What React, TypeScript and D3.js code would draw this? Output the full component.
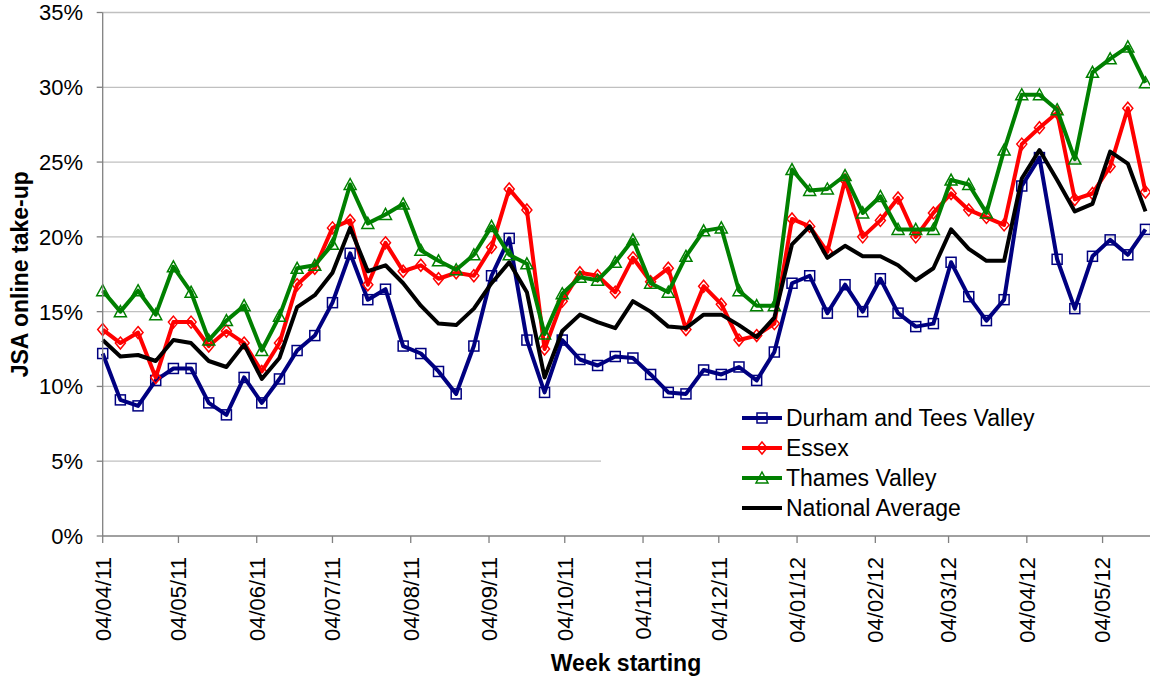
import * as d3 from 'd3';

// Weekly JSA online take-up (%), week starting 04/04/11
const parseDay = d3.timeParse('%d/%m/%y');
const firstWeek = parseDay('04/04/11') as Date;
const weekCount = 60;
const weeks: Date[] = d3.range(weekCount).map(i => d3.timeDay.offset(firstWeek, i * 7));

const monthTicks = [
  '04/04/11', '04/05/11', '04/06/11', '04/07/11', '04/08/11', '04/09/11', '04/10/11',
  '04/11/11', '04/12/11', '04/01/12', '04/02/12', '04/03/12', '04/04/12', '04/05/12'
];
const yTicks = [0, 5, 10, 15, 20, 25, 30, 35];

const durham = [
  12.2, 9.1, 8.7, 10.4, 11.2, 11.2, 8.9, 8.1, 10.6, 8.9,
  10.5, 12.4, 13.4, 15.6, 18.9, 15.8, 16.5, 12.7, 12.2, 11.0,
  9.5, 12.7, 17.4, 19.9, 13.1, 9.6, 13.1, 11.8, 11.4, 12.0,
  11.9, 10.8, 9.6, 9.5, 11.1, 10.8, 11.3, 10.4, 12.3, 16.9,
  17.4, 14.9, 16.8, 15.0, 17.2, 14.9, 14.0, 14.2, 18.3, 16.0,
  14.4, 15.8, 23.4, 25.3, 18.5, 15.2, 18.7, 19.8, 18.8, 20.5
];
const essex = [
  13.8, 12.9, 13.6, 10.6, 14.3, 14.3, 12.7, 13.7, 12.9, 11.0,
  12.9, 16.8, 17.9, 20.6, 21.1, 16.8, 19.6, 17.7, 18.1, 17.2,
  17.6, 17.4, 19.3, 23.2, 21.8, 12.5, 15.7, 17.6, 17.4, 16.3,
  18.6, 17.0, 17.9, 13.8, 16.7, 15.5, 13.1, 13.4, 14.2, 21.2,
  20.7, 19.0, 23.8, 20.0, 21.1, 22.6, 20.0, 21.6, 22.9, 21.8,
  21.3, 20.8, 26.2, 27.3, 28.3, 22.5, 22.9, 24.7, 28.6, 23.0
];
const thames = [
  16.4, 15.0, 16.4, 14.8, 18.0, 16.3, 13.1, 14.4, 15.4, 12.4,
  14.7, 17.9, 18.1, 19.5, 23.5, 20.9, 21.5, 22.2, 19.1, 18.4,
  17.8, 18.8, 20.7, 18.8, 18.2, 13.5, 16.2, 17.3, 17.1, 18.3,
  19.8, 16.9, 16.3, 18.7, 20.4, 20.6, 16.4, 15.4, 15.4, 24.5,
  23.1, 23.2, 24.1, 21.6, 22.7, 20.5, 20.5, 20.5, 23.8, 23.5,
  21.6, 25.8, 29.5, 29.5, 28.5, 25.2, 31.0, 31.9, 32.7, 30.3
];
const national = [
  13.1, 12.0, 12.1, 11.7, 13.1, 12.9, 11.7, 11.3, 12.8, 10.5,
  11.9, 15.3, 16.1, 17.6, 20.6, 17.7, 18.1, 16.9, 15.4, 14.2,
  14.1, 15.2, 16.9, 18.3, 16.3, 10.6, 13.7, 14.8, 14.3, 13.9,
  15.7, 15.0, 14.0, 13.9, 14.8, 14.8, 14.1, 13.3, 14.6, 19.5,
  20.7, 18.6, 19.4, 18.7, 18.7, 18.1, 17.1, 17.9, 20.5, 19.2,
  18.4, 18.4, 23.9, 25.8, 23.8, 21.7, 22.2, 25.7, 24.9, 21.7
];

type MarkerKind = 'square' | 'diamond' | 'triangle' | 'none';
const series: { name: string; values: number[]; color: string; marker: MarkerKind }[] = [
  { name: 'Durham and Tees Valley', values: durham, color: '#000080', marker: 'square' },
  { name: 'Essex', values: essex, color: '#ff0000', marker: 'diamond' },
  { name: 'Thames Valley', values: thames, color: '#008000', marker: 'triangle' },
  { name: 'National Average', values: national, color: '#000000', marker: 'none' }
];

const width = 1150;
const height = 678;
const plot = { left: 102.7, right: 1150, top: 12.5, bottom: 536 };
const font = '"Liberation Sans", Arial, sans-serif';

const Marker = ({ kind, x, y, color }: { kind: MarkerKind; x: number; y: number; color: string }) => {
  if (kind === 'square') {
    return <rect x={x - 5} y={y - 5} width={10} height={10} fill="none" stroke={color} strokeWidth={1.5} />;
  }
  if (kind === 'diamond') {
    return <path d={`M${x},${y - 6}L${x + 5},${y}L${x},${y + 6}L${x - 5},${y}Z`} fill="none" stroke={color} strokeWidth={1.5} />;
  }
  if (kind === 'triangle') {
    return <path d={`M${x},${y - 6}L${x + 6},${y + 5}L${x - 6},${y + 5}Z`} fill="none" stroke={color} strokeWidth={1.5} />;
  }
  return null;
};

export default function App() {
  const x = d3.scaleTime()
    .domain([weeks[0], weeks[weekCount - 1]])
    .range([plot.left, 1145.5]);
  const y = d3.scaleLinear().domain([0, 35]).range([plot.bottom, plot.top]);

  const line = d3.line<number>()
    .x((_, i) => x(weeks[i]))
    .y(d => y(d));

  const legendRows = [418, 448, 478, 508];

  return (
    <svg width={width} height={height} style={{ position: 'absolute', left: 0, top: 0, fontFamily: font }}>
      <rect width={width} height={height} fill="#fff" />

      {/* gridlines */}
      {yTicks.filter(t => t > 0).map(t => (
        <line key={t} x1={plot.left} x2={plot.right} y1={y(t)} y2={y(t)} stroke="#c0c0c0" strokeWidth={1.3} />
      ))}

      {/* legend background hides part of the grid */}
      <rect x={601} y={397} width={549} height={132} fill="#fff" />

      {/* series */}
      {series.map(s => (
        <g key={s.name}>
          <path d={line(s.values) || ''} fill="none" stroke={s.color} strokeWidth={4} strokeLinejoin="round" />
          {s.values.map((v, i) => (
            <Marker key={i} kind={s.marker} x={x(weeks[i])} y={y(v)} color={s.color} />
          ))}
        </g>
      ))}

      {/* y axis */}
      <line x1={plot.left} x2={plot.left} y1={plot.top} y2={plot.bottom} stroke="#808080" strokeWidth={1.3} />
      {yTicks.map(t => (
        <g key={t}>
          <line x1={plot.left - 6} x2={plot.left} y1={y(t)} y2={y(t)} stroke="#808080" strokeWidth={1.3} />
          <text x={83} y={y(t)} dy="0.36em" textAnchor="end" fontSize={22} fill="#000">{t}%</text>
        </g>
      ))}
      <text
        transform={`translate(20,${(plot.top + plot.bottom) / 2}) rotate(-90)`}
        textAnchor="middle" dy="0.36em" fontSize={23} fontWeight="bold"
      >JSA online take-up</text>

      {/* x axis */}
      <line x1={plot.left} x2={plot.right} y1={plot.bottom} y2={plot.bottom} stroke="#808080" strokeWidth={1.3} />
      {monthTicks.map(label => {
        const tx = x(parseDay(label) as Date);
        return (
          <g key={label}>
            <line x1={tx} x2={tx} y1={plot.bottom} y2={plot.bottom + 7} stroke="#808080" strokeWidth={1.3} />
            <text
              transform={`translate(${tx},557) rotate(-90)`}
              textAnchor="end" dy="0.36em" fontSize={22}
            >{label}</text>
          </g>
        );
      })}
      <text x={626} y={671} textAnchor="middle" fontSize={23} fontWeight="bold">Week starting</text>

      {/* legend */}
      {series.map((s, i) => (
        <g key={s.name}>
          <line x1={742} x2={782} y1={legendRows[i]} y2={legendRows[i]} stroke={s.color} strokeWidth={4} />
          <Marker kind={s.marker} x={762} y={legendRows[i]} color={s.color} />
          <text x={786} y={legendRows[i] + 8.3} fontSize={23}>{s.name}</text>
        </g>
      ))}
    </svg>
  );
}
